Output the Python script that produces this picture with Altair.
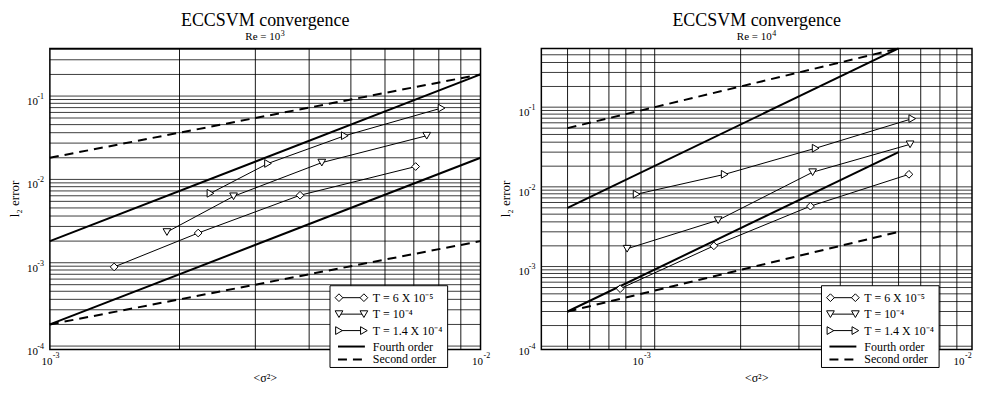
import altair as alt
import pandas as pd

FONT = "Liberation Serif"

# ---------------- data: left panel (Re = 10^3) ----------------
L_RE_EXPONENT = "3"
L_X_DOMAIN = [1e-3, 1e-2]
L_Y_DOMAIN = [1e-4, 0.41]
L_SIG_T1 = [1.41e-3, 2.21e-3, 3.81e-3, 7.07e-3]
L_ERR_T1 = [9.8e-4, 2.5e-3, 7.1e-3, 1.57e-2]
L_SIG_T2 = [1.87e-3, 2.67e-3, 4.28e-3, 7.5e-3]
L_ERR_T2 = [2.57e-3, 6.9e-3, 1.75e-2, 3.68e-2]
L_SIG_T3 = [2.36e-3, 3.21e-3, 4.84e-3, 8.12e-3]
L_ERR_T3 = [7.5e-3, 1.71e-2, 3.68e-2, 7.9e-2]
L_REF_X = [1e-3, 1e-2]
L_FOURTH_HI = [2e-3, 2e-1]
L_FOURTH_LO = [2e-4, 2e-2]
L_SECOND_HI = [2e-2, 2e-1]
L_SECOND_LO = [2e-4, 2e-3]
L_X_TICKS = [1e-3, 1e-2]
L_X_EXPONENTS = ["-3", "-2"]
L_X_GRID = [2e-3, 3e-3, 4e-3, 5e-3, 6e-3, 7e-3, 8e-3, 9e-3]

# ---------------- data: right panel (Re = 10^4) ----------------
R_RE_EXPONENT = "4"
R_X_DOMAIN = [5e-4, 1e-2]
R_Y_DOMAIN = [1e-4, 0.6]
R_SIG_T1 = [8.65e-4, 1.66e-3, 3.25e-3, 6.45e-3]
R_ERR_T1 = [5.8e-4, 2.0e-3, 6.3e-3, 1.58e-2]
R_SIG_T2 = [9.08e-4, 1.71e-3, 3.3e-3, 6.5e-3]
R_ERR_T2 = [1.84e-3, 4.2e-3, 1.68e-2, 3.76e-2]
R_SIG_T3 = [9.7e-4, 1.79e-3, 3.37e-3, 6.6e-3]
R_ERR_T3 = [8.9e-3, 1.58e-2, 3.36e-2, 7.9e-2]
R_REF_X = [6e-4, 6e-3]
R_FOURTH_HI = [6e-3, 6e-1]
R_FOURTH_LO = [3e-4, 3e-2]
R_SECOND_HI = [6e-2, 6e-1]
R_SECOND_LO = [3e-4, 3e-3]
R_X_TICKS = [1e-3, 1e-2]
R_X_EXPONENTS = ["-3", "-2"]
R_X_GRID = [6e-4, 7e-4, 8e-4, 9e-4, 1e-3, 1.1e-3, 2e-3, 3e-3, 4e-3, 5e-3,
            6e-3, 7e-3, 8e-3, 9e-3]

# ---------------- shared ----------------
Y_TICKS = [1e-4, 1e-3, 1e-2, 1e-1]
Y_EXPONENTS = ["-4", "-3", "-2", "-1"]
Y_GRID_MANTISSAS = [1, 1.1, 2, 3, 4, 5, 6, 7, 8, 9]
Y_GRID_DECADES = [1e-4, 1e-3, 1e-2, 1e-1]
SERIES = ["T = 6 X 10⁻⁵", "T = 10⁻⁴", "T = 1.4 X 10⁻⁴"]
SHAPES = ["diamond", "triangle-down", "triangle-right"]
REF_NAMES = ["Fourth order", "Second order"]
TITLE = "ECCSVM convergence"
SUBTITLE_BASE = "Re = 10"
X_TITLE = "<σ²>"
Y_TITLE = "l₂ error"

W, H = 432, 302
one = pd.DataFrame({"k": [0]})


def txt(size, **kw):
    return dict(font=FONT, fontSize=size, color="black", **kw)


def single_text(x, y, text, size, **kw):
    return alt.Chart(one).mark_text(**txt(size, **kw)).encode(
        x=alt.value(x), y=alt.value(y), text=alt.value(text))


def panel(xdom, ydom, xgrid, xticks, xexps, sigs, errs, ref_x,
          f_hi, f_lo, s_hi, s_lo, re_exp, flush_last=False):
    xs = alt.Scale(type="log", domain=xdom, nice=False)
    ys = alt.Scale(type="log", domain=ydom, nice=False)
    X = lambda f: alt.X(f, scale=xs, axis=None)
    Y = lambda f: alt.Y(f, scale=ys, axis=None)

    ygrid = [m * d for d in Y_GRID_DECADES for m in Y_GRID_MANTISSAS
             if ydom[0] < m * d < ydom[1]]
    xg = alt.Chart(pd.DataFrame({"v": xgrid})).mark_rule(
        color="black", strokeWidth=0.9).encode(x=X("v:Q"))
    yg = alt.Chart(pd.DataFrame({"v": ygrid})).mark_rule(
        color="black", strokeWidth=0.9, opacity=0.85).encode(y=Y("v:Q"))

    rows = []
    for name, sy in zip(["f_hi", "f_lo", "s_hi", "s_lo"],
                        [f_hi, f_lo, s_hi, s_lo]):
        for a, b in zip(ref_x, sy):
            rows.append({"g": name, "x": a, "y": b})
    ref = pd.DataFrame(rows)
    fourth = alt.Chart(ref[ref.g.str.startswith("f")]).mark_line(
        color="black", strokeWidth=2).encode(x=X("x:Q"), y=Y("y:Q"),
                                             detail="g:N")
    second = alt.Chart(ref[ref.g.str.startswith("s")]).mark_line(
        color="black", strokeWidth=2, strokeDash=[9, 6]).encode(
        x=X("x:Q"), y=Y("y:Q"), detail="g:N")

    drows = []
    for name, sx, sy in zip(SERIES, sigs, errs):
        for a, b in zip(sx, sy):
            drows.append({"s": name, "x": a, "y": b})
    d = pd.DataFrame(drows)
    dl = alt.Chart(d).mark_line(color="black", strokeWidth=1).encode(
        x=X("x:Q"), y=Y("y:Q"), detail="s:N")
    dp = alt.Chart(d).mark_point(filled=True, fill="white", stroke="black",
                                 strokeWidth=1, size=60, opacity=1).encode(
        x=X("x:Q"), y=Y("y:Q"),
        shape=alt.Shape("s:N", scale=alt.Scale(domain=SERIES, range=SHAPES),
                        legend=None))

    # tick labels: "10" with a raised exponent; titles
    xl = pd.DataFrame({"v": xticks, "e": xexps})
    groups = [(xl, 0)]
    if flush_last:
        groups = [(xl.iloc[:-1], 0), (xl.iloc[-1:], -10)]
    labels = []
    for df, sh in groups:
        labels += [
            alt.Chart(df).mark_text(text="10", align="center",
                                    baseline="middle", dx=-3 + sh,
                                    **txt(11)).encode(
                x=X("v:Q"), y=alt.value(H + 13)),
            alt.Chart(df).mark_text(align="left", baseline="middle",
                                    dx=3 + sh, **txt(8)).encode(
                x=X("v:Q"), y=alt.value(H + 7), text="e:N"),
        ]
    yl = pd.DataFrame({"v": Y_TICKS, "e": Y_EXPONENTS})
    labels += [
        alt.Chart(yl).mark_text(text="10", align="right", baseline="middle",
                                dy=2.5, **txt(11)).encode(
            y=Y("v:Q"), x=alt.value(-12)),
        alt.Chart(yl).mark_text(align="right", baseline="middle", dy=-2.5,
                                **txt(8)).encode(
            y=Y("v:Q"), x=alt.value(-6), text="e:N"),
        single_text(W / 2, H + 29, X_TITLE, 12, align="center",
                    baseline="middle"),
        single_text(-35, 151, Y_TITLE, 13, align="center", baseline="middle",
                    angle=270),
        single_text(W / 2, -22.5, TITLE, 18, align="center",
                    baseline="alphabetic"),
        single_text(W / 2 + 15, -8, SUBTITLE_BASE, 11, align="right",
                    baseline="alphabetic"),
        single_text(W / 2 + 15.5, -12, re_exp, 8, align="left",
                    baseline="alphabetic"),
    ]

    # custom legend
    lx0, lx1, ly0, ly1 = 281, 399, 238, 320
    row_y = [250, 266.5, 283, 299, 312]
    sx0, sx1, tx = 290, 315, 324
    leg = [alt.Chart(one).mark_rect(fill="white", stroke="black",
                                    strokeWidth=1).encode(
        x=alt.value(lx0), x2=alt.value(lx1), y=alt.value(ly0),
        y2=alt.value(ly1))]
    for i, lab in enumerate(SERIES + REF_NAMES):
        yy = row_y[i]
        if i < 3:
            leg.append(alt.Chart(one).mark_rule(color="black",
                                                strokeWidth=1).encode(
                x=alt.value(sx0), x2=alt.value(sx1), y=alt.value(yy)))
            for px in (sx0, sx1):
                leg.append(alt.Chart(one).mark_point(
                    filled=True, fill="white", stroke="black", strokeWidth=1,
                    size=60, opacity=1, shape=SHAPES[i]).encode(
                    x=alt.value(px), y=alt.value(yy)))
        else:
            kw = {} if i == 3 else {"strokeDash": [9, 6]}
            leg.append(alt.Chart(one).mark_rule(color="black",
                                                strokeWidth=2, **kw).encode(
                x=alt.value(sx0 - 1), x2=alt.value(sx1 + 1),
                y=alt.value(yy)))
        leg.append(single_text(tx, yy, lab, 12, align="left",
                               baseline="middle"))

    return alt.layer(xg, yg, fourth, second, dl, dp, *labels, *leg).properties(
        width=W, height=H)


left = panel(L_X_DOMAIN, L_Y_DOMAIN, L_X_GRID, L_X_TICKS, L_X_EXPONENTS,
             [L_SIG_T1, L_SIG_T2, L_SIG_T3], [L_ERR_T1, L_ERR_T2, L_ERR_T3],
             L_REF_X, L_FOURTH_HI, L_FOURTH_LO, L_SECOND_HI, L_SECOND_LO,
             L_RE_EXPONENT)
right = panel(R_X_DOMAIN, R_Y_DOMAIN, R_X_GRID, R_X_TICKS, R_X_EXPONENTS,
              [R_SIG_T1, R_SIG_T2, R_SIG_T3], [R_ERR_T1, R_ERR_T2, R_ERR_T3],
              R_REF_X, R_FOURTH_HI, R_FOURTH_LO, R_SECOND_HI, R_SECOND_LO,
              R_RE_EXPONENT, flush_last=True)

chart = alt.hconcat(left, right, spacing=8).properties(
    padding={"left": 0, "top": 2, "right": 0, "bottom": 0},
    background="white",
).configure_view(stroke="black", strokeWidth=1.5)

chart.save("out.html", embed_options={"renderer": "svg", "actions": False})
